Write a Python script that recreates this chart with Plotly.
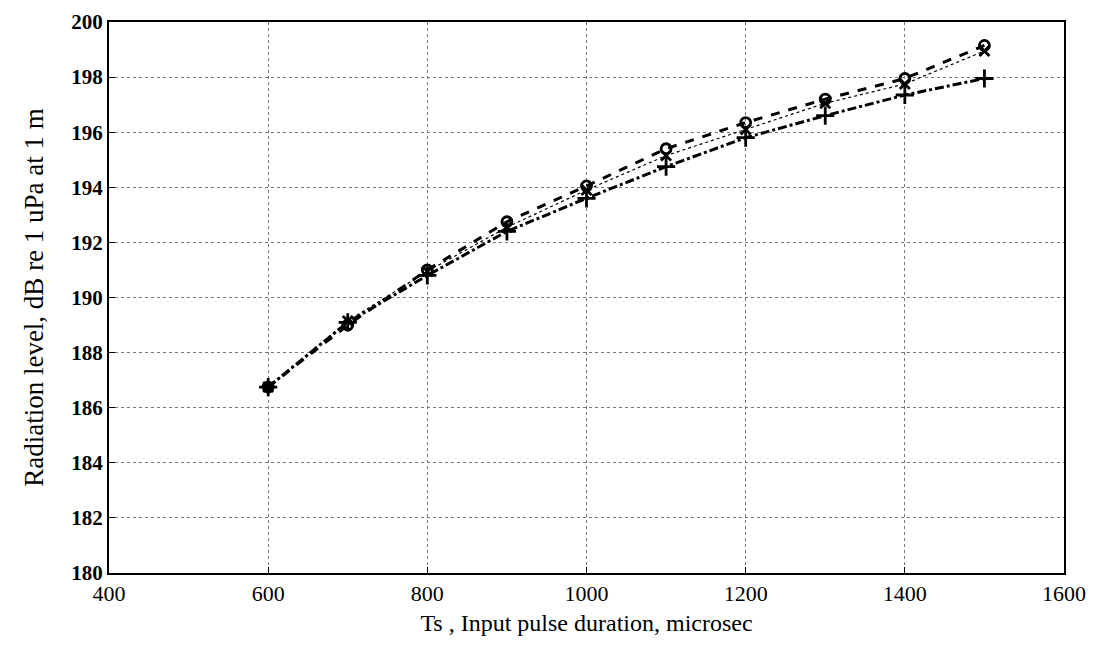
import plotly.graph_objects as go

ts = [600, 700, 800, 900, 1000, 1100, 1200, 1300, 1400, 1500]
level_o = [186.75, 189.0, 191.0, 192.75, 194.05, 195.4, 196.35, 197.2, 197.95, 199.15]
level_x = [186.75, 189.15, 190.95, 192.55, 193.9, 195.15, 196.1, 197.05, 197.75, 198.95]
level_p = [186.75, 189.1, 190.8, 192.4, 193.6, 194.75, 195.8, 196.6, 197.35, 197.95]
x_ticks = [400, 600, 800, 1000, 1200, 1400, 1600]
y_ticks = [180, 182, 184, 186, 188, 190, 192, 194, 196, 198, 200]

fig = go.Figure()
fig.add_trace(go.Scatter(x=ts, y=level_x, mode="lines+markers",
                         line=dict(color="black", width=1.2, dash="dot"),
                         marker=dict(symbol="x-thin", size=10, line=dict(color="black", width=2.8)),
                         showlegend=False))
fig.add_trace(go.Scatter(x=ts, y=level_p, mode="lines+markers",
                         line=dict(color="black", width=3, dash="dashdot"),
                         marker=dict(symbol="cross-thin", size=13, line=dict(color="black", width=2.8)),
                         showlegend=False))
fig.add_trace(go.Scatter(x=ts, y=level_o, mode="lines+markers",
                         line=dict(color="black", width=3, dash="dash"),
                         marker=dict(symbol="circle-open", size=10, color="black", line=dict(color="black", width=2.8)),
                         showlegend=False))

font = "Liberation Serif"
fig.update_layout(
    width=1095, height=665,
    margin=dict(l=101, r=39, t=14, b=100),
    paper_bgcolor="white", plot_bgcolor="white",
    font=dict(family=font, color="black", size=20),
)
fig.update_xaxes(range=[400, 1600], tickvals=x_ticks, ticktext=[str(v) for v in x_ticks],
                 automargin=False, ticklabeloverflow="allow",
                 showgrid=True, gridcolor="#777", griddash="dot", gridwidth=1,
                 showline=True, linecolor="black", linewidth=2, mirror=True,
                 ticks="inside", ticklen=6, tickcolor="black", zeroline=False,
                 tickfont=dict(family=font, size=22),
                 title=dict(text="Ts , Input pulse duration, microsec", font=dict(family=font, size=24), standoff=9))
fig.update_yaxes(range=[180, 200], tickvals=y_ticks, ticktext=["<b>%d</b>" % v for v in y_ticks],
                 automargin=False, ticklabeloverflow="allow",
                 showgrid=True, gridcolor="#777", griddash="dot", gridwidth=1,
                 showline=True, linecolor="black", linewidth=2, mirror=True,
                 ticks="inside", ticklen=6, tickcolor="black", zeroline=False,
                 tickfont=dict(family=font, size=21),
                 title=dict(text="Radiation level, dB re 1 uPa at 1 m", font=dict(family=font, size=27), standoff=20))

fig.write_html("out.html")
